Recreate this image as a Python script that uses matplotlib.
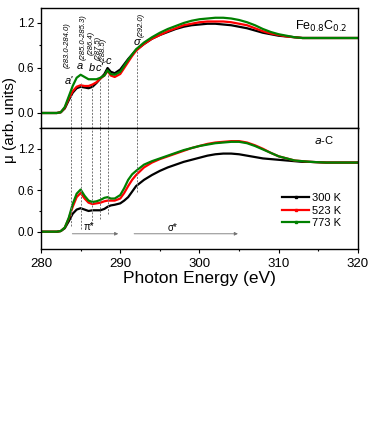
import matplotlib
matplotlib.use("Agg")
import matplotlib.pyplot as plt
from matplotlib.lines import Line2D
from matplotlib.ticker import MultipleLocator

plt.rcParams['font.family'] = ['Liberation Sans', 'DejaVu Sans']

# energy grid (eV) shared by all curves
energy = [280, 282, 282.5, 283, 283.5, 284, 284.5, 285, 285.5, 286, 286.5, 287,
          287.5, 288, 288.4, 288.8, 289.3, 290, 290.5, 291, 291.5, 292, 293, 294,
          295, 296, 297, 298, 299, 300, 301, 302, 303, 304, 305, 306, 307, 308,
          309, 310, 311, 312, 313, 314, 316, 318, 320]

# Fe0.8C0.2 panel
fe_300 = [0, 0, 0.01, 0.06, 0.17, 0.27, 0.33, 0.35, 0.34, 0.33, 0.35, 0.40,
          0.46, 0.52, 0.60, 0.55, 0.53, 0.58, 0.65, 0.72, 0.78, 0.84, 0.92, 0.99,
          1.04, 1.08, 1.12, 1.15, 1.17, 1.18, 1.19, 1.19, 1.18, 1.17, 1.15, 1.13,
          1.10, 1.07, 1.05, 1.03, 1.02, 1.01, 1.0, 1.0, 1.0, 1.0, 1.0]
fe_523 = [0, 0, 0.01, 0.07, 0.19, 0.29, 0.35, 0.37, 0.36, 0.36, 0.38, 0.41,
          0.46, 0.50, 0.56, 0.50, 0.48, 0.52, 0.60, 0.68, 0.76, 0.83, 0.92, 0.99,
          1.04, 1.09, 1.13, 1.17, 1.19, 1.21, 1.22, 1.22, 1.22, 1.21, 1.19, 1.17,
          1.13, 1.09, 1.06, 1.04, 1.02, 1.01, 1.0, 1.0, 1.0, 1.0, 1.0]
fe_773 = [0, 0, 0.01, 0.08, 0.22, 0.36, 0.47, 0.51, 0.48, 0.45, 0.45, 0.45,
          0.47, 0.50, 0.57, 0.52, 0.51, 0.55, 0.63, 0.71, 0.78, 0.85, 0.94, 1.01,
          1.07, 1.12, 1.16, 1.20, 1.23, 1.25, 1.26, 1.27, 1.27, 1.26, 1.24, 1.21,
          1.17, 1.12, 1.08, 1.05, 1.03, 1.01, 1.0, 1.0, 1.0, 1.0, 1.0]

# a-C panel
ac_300 = [0, 0, 0.01, 0.05, 0.15, 0.26, 0.32, 0.34, 0.32, 0.30, 0.31, 0.31,
          0.31, 0.33, 0.36, 0.38, 0.39, 0.41, 0.45, 0.50, 0.58, 0.66, 0.75, 0.82,
          0.88, 0.93, 0.97, 1.01, 1.04, 1.07, 1.10, 1.12, 1.13, 1.13, 1.12, 1.10,
          1.08, 1.06, 1.05, 1.04, 1.03, 1.02, 1.01, 1.01, 1.0, 1.0, 1.0]
ac_523 = [0, 0, 0.01, 0.06, 0.19, 0.36, 0.50, 0.56, 0.48, 0.42, 0.40, 0.41,
          0.42, 0.44, 0.45, 0.45, 0.45, 0.48, 0.56, 0.66, 0.75, 0.82, 0.93, 1.0,
          1.05, 1.09, 1.13, 1.17, 1.21, 1.24, 1.27, 1.29, 1.30, 1.31, 1.31, 1.29,
          1.25, 1.20, 1.14, 1.09, 1.06, 1.03, 1.02, 1.01, 1.0, 1.0, 1.0]
ac_773 = [0, 0, 0.01, 0.06, 0.20, 0.40, 0.55, 0.61, 0.52, 0.45, 0.43, 0.44,
          0.46, 0.49, 0.50, 0.48, 0.48, 0.53, 0.63, 0.75, 0.83, 0.88, 0.97, 1.02,
          1.06, 1.10, 1.14, 1.18, 1.21, 1.24, 1.26, 1.28, 1.29, 1.30, 1.30, 1.28,
          1.24, 1.19, 1.14, 1.09, 1.06, 1.03, 1.02, 1.01, 1.0, 1.0, 1.0]

labels = ['300 K', '523 K', '773 K']
colors = ['black', '#ff0000', '#008000']

# feature markers
feat_x = [283.8, 285.05, 286.4, 287.45, 288.4, 292.1]
feat_top = [0.24, 0.40, 0.36, 0.44, 0.52, 0.84]
feat_bot = [0.08, 0.04, 0.11, 0.18, 0.26, 0.58]
feat_letters = ["a'", "a", "b", "c'", "c", "σ"]
letter_pos = [(283.57, 0.43), (284.95, 0.63), (286.4, 0.60), (287.36, 0.60),
              (288.5, 0.69), (292.15, 0.95)]
feat_ranges = ['(283.0-284.0)', '(285.0-285.3)', '(286.4)', '(287.5)', '(288.5)', '(292.0)']
range_pos = [(283.36, 0.60), (285.3, 0.71), (286.3, 0.77), (287.15, 0.71),
             (287.85, 0.68), (292.6, 1.01)]

fig = plt.figure(figsize=(3.81, 4.37), dpi=100)
ax1 = fig.add_axes([0.1076, 0.7071, 0.832, 0.2746])
ax2 = fig.add_axes([0.1076, 0.4302, 0.832, 0.2769])

for ax, series in ((ax1, (fe_300, fe_523, fe_773)), (ax2, (ac_300, ac_523, ac_773))):
    for y, c in zip(series, colors):
        ax.plot(energy, y, color=c, lw=1.6)
    ax.set_xlim(280, 320)
    ax.xaxis.set_major_locator(MultipleLocator(10))
    ax.xaxis.set_minor_locator(MultipleLocator(5))
    ax.set_yticks([0.0, 0.6, 1.2])
    ax.set_yticklabels(['0.0', '0.6', '1.2'])
    ax.yaxis.set_minor_locator(MultipleLocator(0.3))
    ax.tick_params(which='major', direction='out', length=3, width=0.8)
    ax.tick_params(which='minor', direction='out', length=1.5, width=0.8)
    ax.tick_params(axis='x', labelsize=9.5)
    ax.tick_params(axis='y', labelsize=8.5, pad=2)
    for s in ax.spines.values():
        s.set_linewidth(1.0)

ax1.set_ylim(-0.2, 1.4)
ax2.set_ylim(-0.25, 1.5)
ax1.tick_params(labelbottom=False)

# dashed guide lines
ax1.vlines(feat_x, -0.2, feat_top, colors='0.45', linestyles=(0, (2, 1.5)), lw=0.7)
ax2.vlines(feat_x, feat_bot, 1.5, colors='0.45', linestyles=(0, (2, 1.5)), lw=0.7)

for t, (x, y) in zip(feat_letters, letter_pos):
    ax1.text(x, y, t, fontsize=8, style='italic', ha='center', va='center')
for t, (x, y) in zip(feat_ranges, range_pos):
    ax1.text(x, y, t, fontsize=5.5, style='italic', rotation=90, ha='center', va='bottom')

ax1.text(318.6, 1.15, 'Fe$_{0.8}$C$_{0.2}$', fontsize=9, ha='right', va='center')
ax2.text(317.0, 1.33, '$a$-C', fontsize=8, ha='right', va='center')

# pi* and sigma* arrows
arrow = dict(arrowstyle='-|>', color='0.45', lw=0.6, mutation_scale=5)
ax2.annotate('', xy=(290.1, -0.03), xytext=(283.6, -0.03), arrowprops=arrow)
ax2.annotate('', xy=(305.2, -0.03), xytext=(291.4, -0.03), arrowprops=arrow)
ax2.text(286.1, 0.07, 'π*', fontsize=7, ha='center', va='center')
ax2.text(296.6, 0.05, 'σ*', fontsize=7, ha='center', va='center')

handles = [Line2D([], [], color=c, lw=1.6, marker='s', ms=2) for c in colors]
ax2.legend(handles, labels, loc='upper left', bbox_to_anchor=(0.74, 0.52),
           frameon=False, fontsize=8, handlelength=2.4, handletextpad=0.3,
           labelspacing=0.25, borderpad=0.1, numpoints=1)

ax2.set_xlabel('Photon Energy (eV)', fontsize=12.5, labelpad=1)
fig.text(0.027, 0.725, 'μ (arb. units)', rotation=90, fontsize=11,
         ha='center', va='center')

fig.savefig('out.png', dpi=100)
